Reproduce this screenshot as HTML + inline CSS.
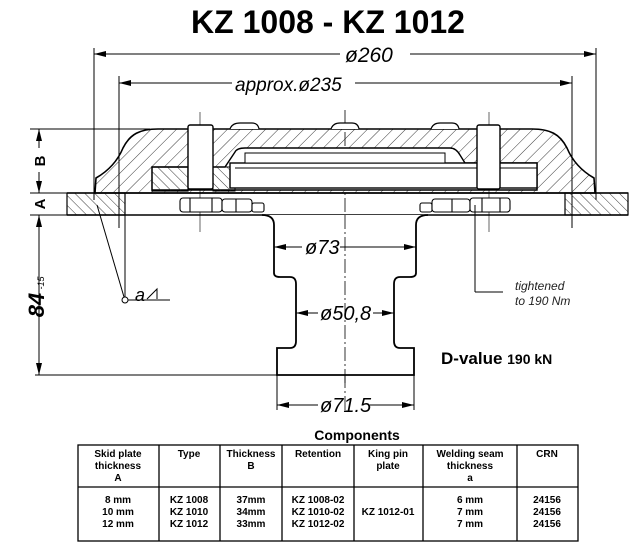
<!DOCTYPE html>
<html><head><meta charset="utf-8"><style>
html,body{margin:0;padding:0;background:#fff;}
svg{display:block;}
text{font-family:"Liberation Sans",sans-serif;}
</style></head><body>
<svg width="640" height="546" viewBox="0 0 640 546" xmlns="http://www.w3.org/2000/svg">
<defs>
<pattern id="h1" patternUnits="userSpaceOnUse" width="9" height="9" patternTransform="rotate(45)"><line x1="0" y1="0" x2="0" y2="9" stroke="#222" stroke-width="0.9"/></pattern>
<pattern id="h2" patternUnits="userSpaceOnUse" width="7" height="7" patternTransform="rotate(-45)"><line x1="0" y1="0" x2="0" y2="7" stroke="#222" stroke-width="0.9"/></pattern>
<marker id="ar" markerWidth="12" markerHeight="6" refX="12" refY="3" orient="auto" markerUnits="userSpaceOnUse"><path d="M0,0 L12,3 L0,6 Z" fill="#000"/></marker>
<marker id="al" markerWidth="12" markerHeight="6" refX="0" refY="3" orient="auto" markerUnits="userSpaceOnUse"><path d="M12,0 L0,3 L12,6 Z" fill="#000"/></marker>
</defs>
<text x="328" y="33" text-anchor="middle" font-size="32" font-weight="bold">KZ 1008 - KZ 1012</text>

<g stroke="#000" stroke-width="1" fill="none">
<line x1="94" y1="48" x2="94" y2="200"/>
<line x1="596" y1="48" x2="596" y2="200"/>
<line x1="119" y1="76" x2="119" y2="228"/>
<line x1="572" y1="76" x2="572" y2="228"/>
<line x1="94" y1="54" x2="340" y2="54" marker-start="url(#al)"/>
<line x1="410" y1="54" x2="596" y2="54" marker-end="url(#ar)"/>
<line x1="119" y1="83" x2="232" y2="83" marker-start="url(#al)"/>
<line x1="355" y1="83" x2="572" y2="83" marker-end="url(#ar)"/>
<line x1="345" y1="110" x2="345" y2="410" stroke-dasharray="14,3,2,3" stroke-width="0.8"/>
<line x1="200" y1="112" x2="200" y2="232" stroke-width="0.6"/>
<line x1="489" y1="112" x2="489" y2="232" stroke-width="0.6"/>
<line x1="30" y1="129" x2="150" y2="129"/>
<line x1="30" y1="193" x2="70" y2="193"/>
<line x1="30" y1="215" x2="70" y2="215"/>
<line x1="35" y1="375" x2="277" y2="375"/>
<line x1="39" y1="129" x2="39" y2="148" marker-start="url(#al)"/>
<line x1="39" y1="172" x2="39" y2="193" marker-end="url(#ar)"/>
<line x1="39" y1="215" x2="39" y2="375" marker-start="url(#al)" marker-end="url(#ar)"/>
</g>
<text x="345" y="62" font-size="21" font-style="italic">ø260</text>
<text x="235" y="91" font-size="19" font-style="italic">approx.ø235</text>
<text transform="translate(45,161) rotate(-90)" font-size="15" font-weight="bold" text-anchor="middle">B</text>
<text transform="translate(45,204) rotate(-90)" font-size="15" font-weight="bold" text-anchor="middle">A</text>
<text transform="translate(44,305) rotate(-90)" font-size="22" font-weight="bold" font-style="italic" text-anchor="middle">84</text>
<text transform="translate(44,283) rotate(-90)" font-size="9" font-style="italic" text-anchor="middle">-15</text>

<rect x="67" y="193" width="58" height="22" fill="url(#h2)" stroke="#000" stroke-width="1.2"/>
<rect x="565" y="193" width="63" height="22" fill="url(#h2)" stroke="#000" stroke-width="1.2"/>
<line x1="67" y1="193" x2="628" y2="193" stroke="#000" stroke-width="1.4"/>
<line x1="67" y1="215" x2="628" y2="215" stroke="#000" stroke-width="1.4"/>
<path d="M95,193 L96,178 C110,170 118,160 123,148 C130,134 140,129 158,129 L532,129 C550,129 560,134 567,148 C572,160 580,170 594,178 L595,193 Z" fill="url(#h1)" stroke="#000" stroke-width="1.6"/>
<path d="M152,167 L225,167 L235,152 Q237,148 245,148 L450,148 Q456,148 460,155 L465,163 L537,163 L537,190 L152,190 Z" fill="#fff" stroke="#000" stroke-width="1.4"/>
<rect x="152" y="167" width="36" height="24" fill="url(#h2)" stroke="#000" stroke-width="1.2"/>
<rect x="213" y="167" width="22" height="24" fill="url(#h2)" stroke="#000" stroke-width="1"/>
<rect x="230" y="163" width="307" height="25" fill="#fff" stroke="#000" stroke-width="1.4"/>
<rect x="245" y="153" width="200" height="10" fill="#fff" stroke="#000" stroke-width="1"/>
<line x1="235" y1="168" x2="537" y2="168" stroke="#000" stroke-width="1"/>
<rect x="188" y="125" width="25" height="64" rx="2" fill="#fff" stroke="#000" stroke-width="1.4"/>
<rect x="477" y="125" width="23" height="64" rx="2" fill="#fff" stroke="#000" stroke-width="1.4"/>
<path d="M230,129 Q232,123 240,123 L252,123 Q258,123 259,129" fill="#fff" stroke="#000" stroke-width="1.2"/>
<path d="M331,129 Q333,123 340,123 L352,123 Q358,123 359,129" fill="#fff" stroke="#000" stroke-width="1.2"/>
<path d="M431,129 Q433,123 440,123 L452,123 Q458,123 459,129" fill="#fff" stroke="#000" stroke-width="1.2"/>
<g fill="#fff" stroke="#000" stroke-width="1.1">
<rect x="180" y="198" width="42" height="14" rx="3"/><rect x="222" y="199" width="30" height="13" rx="3"/><rect x="252" y="203" width="12" height="9" rx="2"/>
<rect x="420" y="203" width="12" height="9" rx="2"/><rect x="432" y="199" width="38" height="13" rx="3"/><rect x="470" y="198" width="40" height="14" rx="3"/>
<line x1="190" y1="198" x2="190" y2="212"/><line x1="212" y1="198" x2="212" y2="212"/><line x1="236" y1="199" x2="236" y2="212"/>
<line x1="452" y1="199" x2="452" y2="212"/><line x1="482" y1="198" x2="482" y2="212"/><line x1="500" y1="198" x2="500" y2="212"/>
</g>
<!-- pin -->
<path d="M262,215 Q274,215 274,225 L274,273 Q274,277 280,277 L290,277 Q296,277 296,284 L296,341 Q296,348 290,348 L277,348 L277,375 L414,375 L414,348 L400,348 Q394,348 394,341 L394,284 Q394,277 400,277 L410,277 Q416,277 416,273 L416,225 Q416,215 428,215" fill="#fff" stroke="#000" stroke-width="1.8"/>
<line x1="345" y1="215" x2="345" y2="385" stroke="#000" stroke-width="0.8" stroke-dasharray="14,3,2,3"/>
<g stroke="#000" stroke-width="1" fill="none">
<line x1="274" y1="247" x2="302" y2="247" marker-start="url(#al)"/><line x1="340" y1="247" x2="416" y2="247" marker-end="url(#ar)"/>
<line x1="296" y1="313" x2="318" y2="313" marker-start="url(#al)"/><line x1="373" y1="313" x2="394" y2="313" marker-end="url(#ar)"/>
<line x1="277" y1="375" x2="277" y2="410"/><line x1="414" y1="375" x2="414" y2="410"/>
<line x1="277" y1="405" x2="318" y2="405" marker-start="url(#al)"/><line x1="370" y1="405" x2="414" y2="405" marker-end="url(#ar)"/>
<circle cx="125" cy="300" r="3"/>
<line x1="124" y1="297" x2="97" y2="205"/>
<line x1="125" y1="297" x2="125" y2="215"/>
<line x1="128" y1="300" x2="170" y2="300"/>
<path d="M147,299 L157,289 L157,299"/>
<line x1="475" y1="205" x2="475" y2="292"/>
<line x1="475" y1="292" x2="503" y2="292"/>
</g>
<text x="305" y="254" font-size="20" font-style="italic">ø73</text>
<text x="320" y="320" font-size="20" font-style="italic">ø50,8</text>
<text x="320" y="412" font-size="20" font-style="italic">ø71.5</text>
<text x="135" y="301" font-size="18" font-style="italic">a</text>
<text x="515" y="290" font-size="12" font-style="italic" fill="#222">tightened</text>
<text x="515" y="305" font-size="12" font-style="italic" fill="#222">to 190 Nm</text>
<text x="441" y="364" font-size="17" font-weight="bold">D-value <tspan font-size="14">190 kN</tspan></text>

<text x="357" y="440" font-size="14" font-weight="bold" text-anchor="middle">Components</text>
<g stroke="#000" stroke-width="1.3" fill="none">
<rect x="78" y="445" width="500" height="96"/>
<line x1="78" y1="487" x2="578" y2="487"/>
<line x1="159" y1="445" x2="159" y2="541"/><line x1="220" y1="445" x2="220" y2="541"/>
<line x1="282" y1="445" x2="282" y2="541"/><line x1="354" y1="445" x2="354" y2="541"/>
<line x1="423" y1="445" x2="423" y2="541"/><line x1="517" y1="445" x2="517" y2="541"/>
</g>
<g font-size="10" font-weight="bold" text-anchor="middle">
<text x="118" y="457">Skid plate</text><text x="118" y="469">thickness</text><text x="118" y="481">A</text>
<text x="189" y="457">Type</text>
<text x="251" y="457">Thickness</text><text x="251" y="469">B</text>
<text x="318" y="457">Retention</text>
<text x="388" y="457">King pin</text><text x="388" y="469">plate</text>
<text x="470" y="457">Welding seam</text><text x="470" y="469">thickness</text><text x="470" y="481">a</text>
<text x="547" y="457">CRN</text>
<text x="118" y="503">8 mm</text><text x="118" y="515">10 mm</text><text x="118" y="527">12 mm</text>
<text x="189" y="503">KZ 1008</text><text x="189" y="515">KZ 1010</text><text x="189" y="527">KZ 1012</text>
<text x="251" y="503">37mm</text><text x="251" y="515">34mm</text><text x="251" y="527">33mm</text>
<text x="318" y="503">KZ 1008-02</text><text x="318" y="515">KZ 1010-02</text><text x="318" y="527">KZ 1012-02</text>
<text x="388" y="515">KZ 1012-01</text>
<text x="470" y="503">6 mm</text><text x="470" y="515">7 mm</text><text x="470" y="527">7 mm</text>
<text x="547" y="503">24156</text><text x="547" y="515">24156</text><text x="547" y="527">24156</text>
</g>
</svg>
</body></html>
